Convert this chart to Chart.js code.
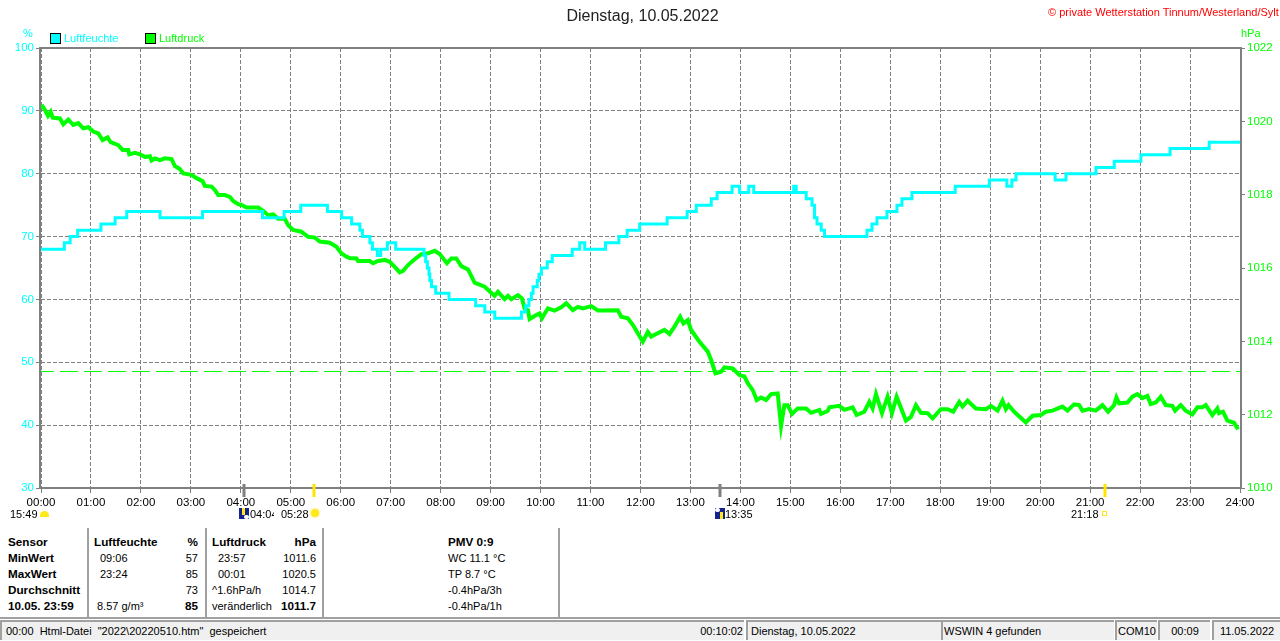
<!DOCTYPE html>
<html>
<head>
<meta charset="utf-8">
<script src="https://cdn.jsdelivr.net/npm/chart.js@4/dist/chart.umd.js"></script>
<style>
html, body { margin: 0; padding: 0; background: #fff; overflow: hidden; }
body { width: 1280px; height: 641px; position: relative; font: 11px "Liberation Sans", sans-serif; color: #000; }
canvas { position: absolute; left: 0; top: 0; }
.t { position: absolute; white-space: nowrap; line-height: 14px; }
.b { font-weight: bold; font-size: 11.7px; }
.sep { position: absolute; top: 528px; height: 89px; width: 2px; background: #a0a0a0; }
.box { position: absolute; top: 33px; width: 9px; height: 9px; border: 1px solid #000; }
.panel { position: absolute; top: 620px; height: 18px; background: #f0f0f0; border-top: 2px solid #a0a0a0; border-left: 2px solid #a0a0a0; line-height: 18px; white-space: nowrap; overflow: hidden; }
.moon { position: absolute; top: 508px; width: 10px; height: 11px; background: #14248c; overflow: hidden; }
.moon i { position: absolute; display: block; }
</style>
</head>
<body>
<canvas id="chart" width="1280" height="520"></canvas>

<span class="t" style="left:1048px;top:5px;color:#f00;font-size:11px">© private Wetterstation Tinnum/Westerland/Sylt</span>
<span class="t" style="left:23px;top:26px;color:#0ff">%</span>
<span class="t" style="left:1241px;top:26px;color:#0f0">hPa</span>
<div class="box" style="left:50px;background:#0ff"></div>
<span class="t" style="left:64px;top:31px;color:#0ff">Luftfeuchte</span>
<div class="box" style="left:145px;background:#0f0"></div>
<span class="t" style="left:159px;top:31px;color:#0f0">Luftdruck</span>

<span class="t" style="left:10px;top:507px">15:49</span>
<div style="position:absolute;left:40px;top:511px;width:9px;height:6px;background:#ffe81a;border-radius:5px 5px 0 0"></div>
<div class="moon" style="left:239px"><i style="left:3px;top:0;width:3px;height:7px;background:#ffe81a"></i><i style="left:5px;top:7px;width:5px;height:4px;background:#fff;border-radius:3px"></i></div>
<span class="t" style="left:250px;top:507px;width:24px;overflow:hidden">04:04</span>
<span class="t" style="left:281px;top:507px">05:28</span>
<div style="position:absolute;left:311px;top:509px;width:8px;height:8px;background:#ffe81a;border-radius:50%;box-shadow:0 0 2px 1px #fff3a0"></div>
<div class="moon" style="left:715px"><i style="left:0;top:0;width:5px;height:4px;background:#fff;border-radius:3px"></i><i style="left:5px;top:4px;width:3px;height:7px;background:#ffe81a"></i></div>
<span class="t" style="left:725px;top:507px">13:35</span>
<span class="t" style="left:1071px;top:507px">21:18</span>
<div style="position:absolute;left:1102px;top:511px;width:3px;height:3px;border:1px solid #ffe81a"></div>

<div class="sep" style="left:87px"></div>
<div class="sep" style="left:205px"></div>
<div class="sep" style="left:322px"></div>
<div class="sep" style="left:558px"></div>
<div id="table"></div>

<div style="position:absolute;left:0;top:617px;width:1280px;height:2px;background:#a0a0a0"></div>
<div class="panel" style="left:0;width:695px;padding-left:4px">00:00&nbsp; Html-Datei&nbsp; "2022\20220510.htm"&nbsp; gespeichert</div>
<div class="panel" style="left:695px;width:48px;padding-right:1px;text-align:right;border-left:0">00:10:02</div>
<div class="panel" style="left:746px;width:191px;padding-left:3px">Dienstag, 10.05.2022</div>
<div class="panel" style="left:941px;width:170px;padding-left:1px">WSWIN 4 gefunden</div>
<div class="panel" style="left:1115px;width:39px;padding-left:1px">COM10</div>
<div class="panel" style="left:1158px;width:50px;text-align:center">00:09</div>
<div class="panel" style="left:1212px;width:66px;text-align:center">11.05.2022</div>

<script>
const hourLabels = ['00:00','01:00','02:00','03:00','04:00','05:00','06:00','07:00','08:00','09:00','10:00','11:00','12:00','13:00','14:00','15:00','16:00','17:00','18:00','19:00','20:00','21:00','22:00','23:00','24:00'];

// humidity only moves in whole percent, a value holds until the next entry
const humTimes = [0,28,35,44,72,89,103,143,194,266,292,312,344,361,373,383,386,395,398,404,408,416,426,460,462,464,466,467,469,474,490,522,533,545,577,582,586,589,591,596,598,601,608,614,638,647,653,678,694,704,719,752,776,787,805,812,830,839,850,856,904,907,919,926,929,932,937,941,992,998,1004,1016,1028,1034,1046,1098,1139,1160,1166,1171,1218,1231,1267,1289,1321,1356,1403,1440];
const humValues = [68,69,70,71,72,73,74,73,74,73,74,75,74,73,72,71,70,69,68,67,68,69,68,67,66,65,64,63,62,61,60,59,58,57,58,59,60,61,62,63,64,65,66,67,68,69,68,69,70,71,72,73,74,75,76,77,78,77,78,77,78,77,76,75,73,72,71,70,71,72,73,74,75,76,77,78,79,78,79,80,79,80,81,82,83,84,85,85];

const pressTimes = [0.8,4.8,8.4,11.6,14,22.8,26.8,32.8,38.8,44.8,50.8,56.8,62.8,68.8,74,80,83.6,92.8,98,104.8,106,112.8,118.8,124.8,130.8,132.8,136.8,142.8,148.8,156.8,160.8,166.8,170.8,180.8,186.8,194,196.8,204.8,208.8,212.8,220.8,226.8,230.8,236.8,240.8,246.8,254.8,260.8,266.8,272.8,278.8,284.8,292.8,296.8,302.8,312.8,320.8,328.8,334.8,346.8,354.8,360.8,366.8,370.8,378.8,380.8,394.8,398.8,404.8,412.8,418.8,424.8,430.8,434.8,440.8,448.8,456.8,464.8,472.8,478.8,487.6,492.8,498.8,504.8,512.8,520.8,532.8,544.8,548.8,556.8,560.8,564.8,572.8,577.6,580.8,584.8,586.8,594.8,598.8,601.6,608.8,616.8,624.8,630.8,638.8,644.8,650.8,660.8,668.8,692.8,696.8,704.8,710.8,716.8,722.8,728.8,732.8,738.8,748.8,754.8,760.8,767.6,771.6,776.8,780.8,790.8,800.8,804.8,810,816.8,820.8,830.8,838.8,844.8,848.8,854.8,859.6,864.8,870.8,876.8,884.8,886.8,888.8,892.8,896.8,902,908.8,918.8,924.8,934.8,936.8,944.8,946.8,958.8,964.8,974.8,979.6,988.8,994.8,998.8,1002.8,1010,1016.8,1022,1027.6,1038.8,1044.8,1050.8,1056.8,1064.8,1070.8,1080.8,1088.8,1095.6,1102.8,1106.8,1112.8,1122.8,1134.8,1140.8,1148.8,1154.8,1158.8,1162,1168.8,1182.8,1190.8,1200.8,1206.8,1214.8,1226.8,1232.8,1240.8,1246.8,1250.8,1258.8,1266.8,1274.8,1281.6,1288.8,1291.6,1294.8,1304.8,1310.8,1316.8,1322.8,1328.8,1332.8,1338.8,1344.8,1350.8,1358.8,1362,1368.8,1374.8,1382.8,1388.8,1394.8,1398.8,1406.8,1412.8,1414.8,1419.6,1424.8,1432.8,1437.6];
const pressValues = [1020.45,1020.31,1020.15,1020.26,1020.10,1020.08,1019.92,1020.05,1019.90,1019.95,1019.81,1019.84,1019.72,1019.67,1019.49,1019.56,1019.43,1019.35,1019.22,1019.22,1019.10,1019.14,1019.10,1019.03,1019.05,1018.93,1018.99,1018.94,1018.99,1018.97,1018.78,1018.70,1018.58,1018.54,1018.45,1018.37,1018.24,1018.22,1018.13,1017.99,1017.99,1017.94,1017.83,1017.74,1017.72,1017.65,1017.65,1017.65,1017.56,1017.44,1017.46,1017.34,1017.34,1017.17,1017.04,1016.99,1016.85,1016.83,1016.72,1016.69,1016.58,1016.40,1016.31,1016.27,1016.26,1016.19,1016.19,1016.13,1016.19,1016.22,1016.17,1016.03,1015.88,1015.92,1016.08,1016.24,1016.38,1016.40,1016.47,1016.38,1016.13,1016.26,1016.26,1016.05,1015.96,1015.60,1015.49,1015.24,1015.35,1015.15,1015.24,1015.15,1015.26,1015.17,1014.90,1014.85,1014.61,1014.72,1014.76,1014.63,1014.90,1014.84,1014.93,1015.04,1014.85,1014.94,1014.90,1014.96,1014.84,1014.85,1014.67,1014.63,1014.45,1014.22,1013.99,1014.26,1014.13,1014.20,1014.31,1014.20,1014.40,1014.67,1014.49,1014.58,1014.31,1013.99,1013.72,1013.49,1013.13,1013.17,1013.29,1013.26,1013.08,1013.04,1012.86,1012.67,1012.40,1012.47,1012.40,1012.56,1012.58,1012.13,1011.69,1012.26,1012.26,1012.02,1012.17,1012.17,1012.05,1012.13,1012.02,1012.10,1012.20,1012.24,1012.13,1012.20,1011.99,1012.08,1012.35,1012.17,1012.56,1012.04,1012.49,1012.04,1012.49,1011.84,1011.94,1012.26,1012.05,1012.04,1011.90,1012.15,1012.15,1012.08,1012.35,1012.22,1012.38,1012.17,1012.15,1012.24,1012.11,1012.38,1012.15,1012.26,1012.08,1011.79,1011.97,1011.99,1012.08,1012.11,1012.22,1012.11,1012.28,1012.26,1012.11,1012.15,1012.11,1012.26,1012.08,1012.26,1012.47,1012.31,1012.33,1012.49,1012.56,1012.45,1012.51,1012.29,1012.33,1012.49,1012.26,1012.24,1012.11,1012.26,1012.11,1012.01,1012.20,1012.20,1012.26,1011.99,1012.17,1012.04,1012.08,1011.84,1011.78,1011.60];

const refPressure = 1013.177;

// sun and moon ticks below the time axis, minutes of the day
const markerTimes = [244, 328, 815, 1278];
const markerColors = ['#808080', '#ffe600', '#808080', '#ffe600'];

// [left, top, text, bold, right edge instead of left]
const tableCells = [
    [8,535,'Sensor',1], [94,535,'Luftfeuchte',1], [198,535,'%',1,1], [212,535,'Luftdruck',1], [316,535,'hPa',1,1], [448,535,'PMV 0:9',1],
    [8,551,'MinWert',1], [100,551,'09:06'], [198,551,'57',0,1], [218,551,'23:57'], [316,551,'1011.6',0,1], [448,551,'WC 11.1 °C'],
    [8,567,'MaxWert',1], [100,567,'23:24'], [198,567,'85',0,1], [218,567,'00:01'], [316,567,'1020.5',0,1], [448,567,'TP 8.7 °C'],
    [8,583,'Durchschnitt',1], [198,583,'73',0,1], [212,583,'^1.6hPa/h'], [316,583,'1014.7',0,1], [448,583,'-0.4hPa/3h'],
    [8,599,'10.05. 23:59',1], [97,599,'8.57 g/m³'], [198,599,'85',1,1], [212,599,'veränderlich'], [316,599,'1011.7',1,1], [448,599,'-0.4hPa/1h'],
];

const table = document.getElementById('table');
tableCells.forEach(([x, y, text, bold, right]) => {
    const s = document.createElement('span');
    s.className = 't' + (bold ? ' b' : '');
    s.style.top = y + 'px';
    if (right) {
        s.style.right = (1280 - x) + 'px';
    } else {
        s.style.left = x + 'px';
    }
    s.textContent = text;
    table.appendChild(s);
});

const frame = {
    id: 'frame',
    afterDatasetsDraw(chart) {
        const { ctx, chartArea: a, scales } = chart;
        ctx.save();
        ctx.strokeStyle = '#808080';
        ctx.lineWidth = 2;
        ctx.strokeRect(a.left - 1, a.top, a.right - a.left + 2, a.bottom - a.top);
        ctx.lineWidth = 3;
        markerTimes.forEach((m, i) => {
            const x = Math.round(scales.x.getPixelForValue(m));
            ctx.strokeStyle = markerColors[i];
            ctx.beginPath();
            ctx.moveTo(x, a.bottom - 4);
            ctx.lineTo(x, a.bottom + 9);
            ctx.stroke();
        });
        ctx.restore();
    },
};

const tickFont = { family: 'Liberation Sans', size: 11.5 };

new Chart(document.getElementById('chart'), {
    type: 'line',
    data: {
        datasets: [
            {
                label: 'Luftfeuchte',
                yAxisID: 'y',
                data: humTimes.map((t, i) => ({ x: t, y: humValues[i] })),
                borderColor: '#00ffff',
                backgroundColor: '#00ffff',
                borderWidth: 3,
                stepped: true,
                pointRadius: 0,
            },
            {
                label: 'Luftdruck',
                yAxisID: 'y1',
                data: pressTimes.map((t, i) => ({ x: t, y: pressValues[i] })),
                borderColor: '#00ff00',
                backgroundColor: '#00ff00',
                borderWidth: 4,
                pointRadius: 0,
            },
            {
                label: 'Referenz',
                yAxisID: 'y1',
                data: [{ x: 0, y: refPressure }, { x: 1440, y: refPressure }],
                borderColor: '#00ff00',
                borderWidth: 1,
                borderDash: [18, 6],
                borderDashOffset: 5,
                pointRadius: 0,
            },
        ],
    },
    options: {
        responsive: false,
        animation: false,
        layout: { padding: { left: 5 } },
        plugins: {
            legend: { display: false },
            tooltip: { enabled: false },
            title: {
                display: true,
                text: 'Dienstag, 10.05.2022',
                color: '#222',
                font: { family: 'Liberation Sans', size: 16, weight: 'normal', lineHeight: 1.2 },
                padding: { top: 7, bottom: 21.8 },
            },
        },
        scales: {
            x: {
                type: 'linear',
                min: 0,
                max: 1440,
                afterFit(s) { s.height = 32; },
                afterBuildTicks(s) { s.ticks = hourLabels.map((_, i) => ({ value: i * 60 })); },
                grid: { color: '#808080', tickLength: 5, tickColor: '#808080' },
                border: { display: false, dash: [4, 2] },
                ticks: {
                    color: '#000',
                    font: tickFont,
                    padding: 3,
                    maxRotation: 0,
                    autoSkip: false,
                    callback: (v) => hourLabels[v / 60],
                },
            },
            y: {
                position: 'left',
                min: 30,
                max: 100,
                afterFit(s) { s.width = 36; },
                grid: { color: '#808080', tickLength: 5, tickColor: '#808080' },
                border: { display: false, dash: [4, 2] },
                ticks: { stepSize: 10, color: '#00ffff', font: tickFont, padding: 2 },
            },
            y1: {
                position: 'right',
                min: 1010,
                max: 1022,
                afterFit(s) { s.width = 40; },
                grid: { drawOnChartArea: false, tickLength: 5, tickColor: '#808080' },
                border: { display: false },
                ticks: { stepSize: 2, color: '#00ff00', font: tickFont, padding: 2, callback: (v) => String(v) },
            },
        },
    },
    plugins: [frame],
});
</script>
</body>
</html>
